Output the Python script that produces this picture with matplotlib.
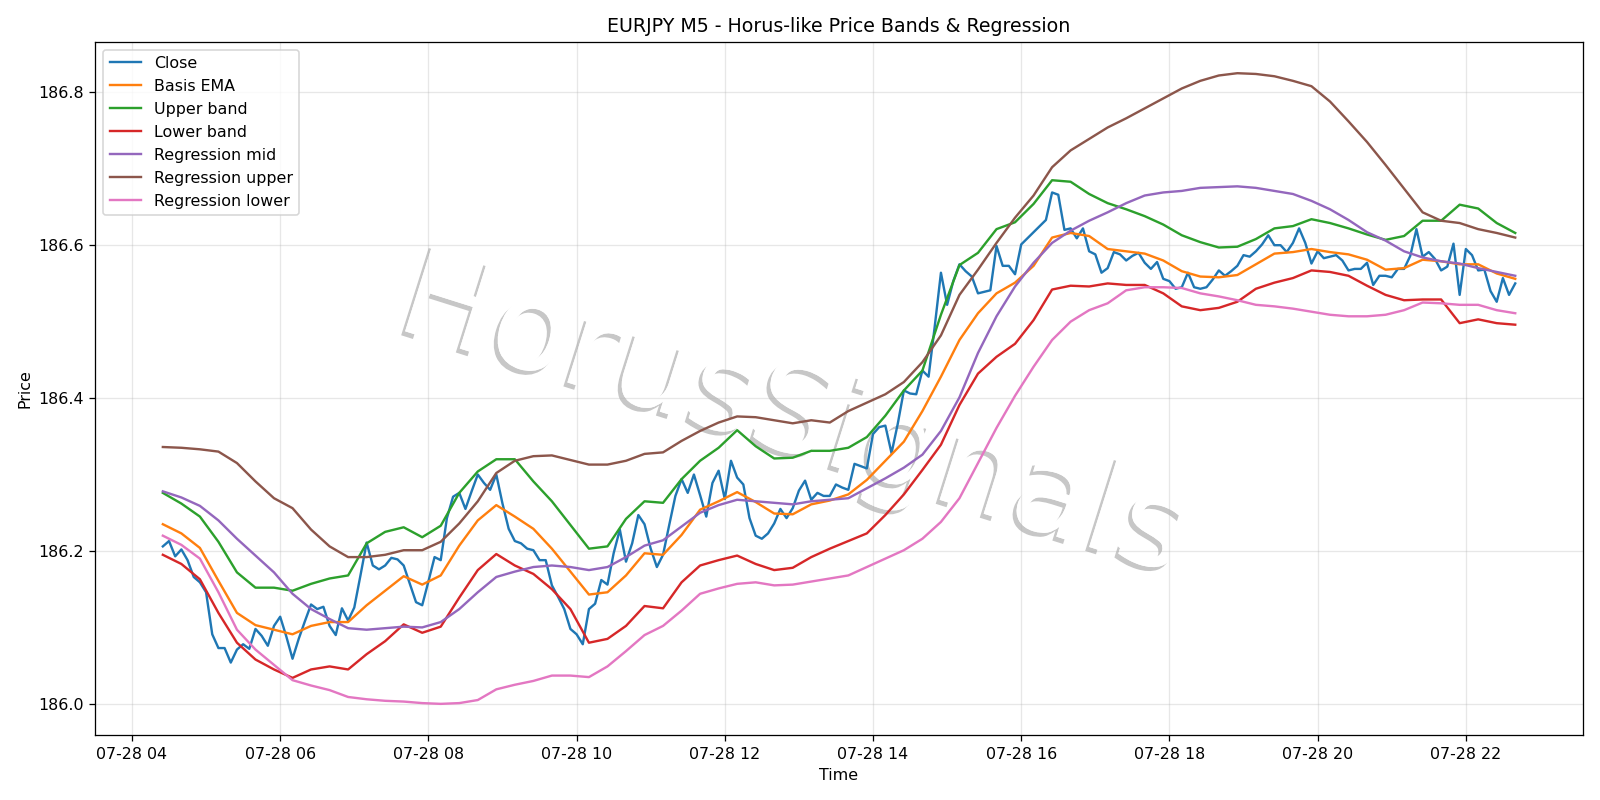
import numpy as np
import pandas as pd
import matplotlib
matplotlib.use("Agg")
import matplotlib.pyplot as plt
import matplotlib.dates as mdates
import matplotlib.patheffects as pe

# ── data (EURJPY M5, 2025-07-28) ────────────────────────────────────────────
START = "2025-07-28 04:25"

# close, one value per 5-minute bar
close = [
    186.206, 186.213, 186.193, 186.202, 186.188, 186.166, 186.159, 186.146, 186.091, 186.073,
    186.073, 186.054, 186.071, 186.078, 186.072, 186.098, 186.089, 186.076, 186.102, 186.114,
    186.088, 186.059, 186.085, 186.108, 186.130, 186.124, 186.127, 186.102, 186.090, 186.125,
    186.109, 186.126, 186.168, 186.211, 186.181, 186.176, 186.181, 186.191, 186.189, 186.181,
    186.157, 186.133, 186.129, 186.160, 186.192, 186.188, 186.243, 186.271, 186.276, 186.255,
    186.278, 186.300, 186.289, 186.280, 186.300, 186.262, 186.229, 186.213, 186.210, 186.203,
    186.201, 186.188, 186.188, 186.155, 186.140, 186.124, 186.098, 186.091, 186.078, 186.124,
    186.131, 186.162, 186.156, 186.197, 186.228, 186.186, 186.210, 186.247, 186.235, 186.203,
    186.179, 186.195, 186.234, 186.272, 186.294, 186.276, 186.300, 186.273, 186.245, 186.289,
    186.305, 186.268, 186.318, 186.296, 186.287, 186.243, 186.220, 186.216, 186.223, 186.236,
    186.255, 186.243, 186.256, 186.279, 186.292, 186.267, 186.276, 186.272, 186.272, 186.287,
    186.283, 186.280, 186.314, 186.311, 186.308, 186.353, 186.362, 186.364, 186.328, 186.366,
    186.410, 186.406, 186.405, 186.436, 186.428, 186.494, 186.564, 186.522, 186.553, 186.575,
    186.566, 186.559, 186.537, 186.539, 186.541, 186.599, 186.573, 186.573, 186.562, 186.601,
    186.609, 186.617, 186.625, 186.633, 186.669, 186.666, 186.620, 186.622, 186.609, 186.622,
    186.592, 186.588, 186.564, 186.570, 186.591, 186.588, 186.580, 186.586, 186.590, 186.577,
    186.569, 186.578, 186.556, 186.553, 186.543, 186.545, 186.564, 186.545, 186.543, 186.545,
    186.555, 186.567, 186.560, 186.566, 186.573, 186.587, 186.585, 186.592, 186.601, 186.613,
    186.600, 186.600, 186.591, 186.603, 186.622, 186.603, 186.576, 186.592, 186.583, 186.585,
    186.587, 186.580, 186.567, 186.569, 186.569, 186.577, 186.548, 186.560, 186.560, 186.558,
    186.569, 186.569, 186.586, 186.621, 186.585, 186.591, 186.582, 186.567, 186.572, 186.602,
    186.535, 186.595, 186.587, 186.567, 186.568, 186.540, 186.526, 186.557, 186.535, 186.550,
]

# smoother series, read every third bar (15 minutes)
basis_ema = [
    186.235, 186.223, 186.204, 186.161, 186.119, 186.103, 186.097,
    186.091, 186.102, 186.107, 186.107, 186.129, 186.148, 186.167, 186.156,
    186.168, 186.207, 186.240, 186.260, 186.245, 186.229, 186.203,
    186.173, 186.143, 186.146, 186.168, 186.197, 186.195, 186.221,
    186.254, 186.265, 186.277, 186.264, 186.249, 186.248, 186.261, 186.266,
    186.274, 186.293, 186.318, 186.343, 186.383, 186.428, 186.476,
    186.511, 186.537, 186.551, 186.573, 186.610, 186.616, 186.612,
    186.595, 186.592, 186.589, 186.580, 186.566, 186.559, 186.558,
    186.561, 186.575, 186.589, 186.591, 186.595, 186.591, 186.588, 186.581,
    186.568, 186.570, 186.581, 186.579, 186.575, 186.575, 186.563, 186.556,
]
upper_band = [
    186.276, 186.262, 186.245, 186.212, 186.172, 186.152, 186.152,
    186.148, 186.157, 186.164, 186.168, 186.210, 186.225, 186.231, 186.218,
    186.233, 186.276, 186.304, 186.320, 186.320, 186.291, 186.265,
    186.234, 186.203, 186.206, 186.242, 186.265, 186.263, 186.294,
    186.318, 186.335, 186.358, 186.337, 186.321, 186.322, 186.331, 186.331,
    186.335, 186.349, 186.377, 186.410, 186.436, 186.509, 186.574,
    186.590, 186.621, 186.630, 186.654, 186.685, 186.683, 186.667,
    186.655, 186.647, 186.638, 186.627, 186.613, 186.604, 186.597,
    186.598, 186.608, 186.622, 186.625, 186.634, 186.629, 186.622, 186.614,
    186.607, 186.612, 186.632, 186.632, 186.653, 186.648, 186.629, 186.616,
]
lower_band = [
    186.195, 186.183, 186.163, 186.119, 186.080, 186.058, 186.045,
    186.034, 186.045, 186.049, 186.045, 186.065, 186.082, 186.104, 186.093,
    186.101, 186.139, 186.175, 186.196, 186.181, 186.170, 186.150,
    186.124, 186.080, 186.085, 186.102, 186.128, 186.125, 186.159,
    186.181, 186.188, 186.194, 186.183, 186.175, 186.178, 186.192, 186.203,
    186.213, 186.223, 186.247, 186.274, 186.306, 186.339, 186.391,
    186.432, 186.454, 186.471, 186.502, 186.542, 186.547, 186.546,
    186.550, 186.548, 186.548, 186.537, 186.520, 186.515, 186.518,
    186.526, 186.543, 186.551, 186.557, 186.567, 186.565, 186.560, 186.547,
    186.535, 186.528, 186.529, 186.529, 186.498, 186.503, 186.498, 186.496,
]
reg_mid = [
    186.278, 186.270, 186.259, 186.240, 186.216, 186.194, 186.172,
    186.144, 186.124, 186.111, 186.099, 186.097, 186.099, 186.101, 186.100,
    186.107, 186.124, 186.146, 186.166, 186.173, 186.179, 186.181,
    186.179, 186.175, 186.179, 186.192, 186.207, 186.214, 186.232,
    186.250, 186.260, 186.267, 186.265, 186.263, 186.261, 186.265, 186.267,
    186.269, 186.282, 186.295, 186.309, 186.326, 186.357, 186.401,
    186.459, 186.507, 186.546, 186.577, 186.603, 186.619, 186.632,
    186.643, 186.655, 186.665, 186.669, 186.671, 186.675, 186.676,
    186.677, 186.675, 186.671, 186.667, 186.658, 186.647, 186.633, 186.617,
    186.606, 186.592, 186.584, 186.579, 186.576, 186.570, 186.565, 186.560,
]
reg_upper = [
    186.336, 186.335, 186.333, 186.330, 186.315, 186.291, 186.269,
    186.256, 186.228, 186.206, 186.192, 186.192, 186.195, 186.201, 186.201,
    186.212, 186.236, 186.265, 186.302, 186.318, 186.324, 186.325,
    186.319, 186.313, 186.313, 186.318, 186.327, 186.329, 186.344,
    186.357, 186.368, 186.376, 186.375, 186.371, 186.367, 186.371, 186.368,
    186.383, 186.394, 186.405, 186.421, 186.447, 186.482, 186.535,
    186.568, 186.603, 186.636, 186.665, 186.702, 186.724, 186.739,
    186.754, 186.766, 186.779, 186.792, 186.805, 186.815, 186.822,
    186.825, 186.824, 186.821, 186.815, 186.808, 186.788, 186.762, 186.735,
    186.705, 186.674, 186.643, 186.632, 186.629, 186.621, 186.616, 186.610,
]
reg_lower = [
    186.220, 186.208, 186.190, 186.146, 186.097, 186.071, 186.051,
    186.031, 186.024, 186.018, 186.009, 186.006, 186.004, 186.003, 186.001,
    186.000, 186.001, 186.005, 186.019, 186.025, 186.030, 186.037,
    186.037, 186.035, 186.049, 186.069, 186.090, 186.102, 186.122,
    186.144, 186.151, 186.157, 186.159, 186.155, 186.156, 186.160, 186.164,
    186.168, 186.179, 186.190, 186.201, 186.216, 186.238, 186.269,
    186.315, 186.361, 186.403, 186.441, 186.476, 186.500, 186.515,
    186.524, 186.541, 186.545, 186.545, 186.544, 186.537, 186.533,
    186.528, 186.522, 186.520, 186.517, 186.513, 186.509, 186.507, 186.507,
    186.509, 186.515, 186.525, 186.524, 186.522, 186.522, 186.515, 186.511,
]


def main():
    t5 = pd.date_range(START, periods=len(close), freq="5min")
    t15 = t5[::3]

    fig, ax = plt.subplots(figsize=(14, 7), dpi=1600 / 14)

    ax.plot(t5, close, label="Close", lw=1.5)
    ax.plot(t15, basis_ema, label="Basis EMA", lw=1.5)
    ax.plot(t15, upper_band, label="Upper band", lw=1.5)
    ax.plot(t15, lower_band, label="Lower band", lw=1.5)
    ax.plot(t15, reg_mid, label="Regression mid", lw=1.5)
    ax.plot(t15, reg_upper, label="Regression upper", lw=1.5)
    ax.plot(t15, reg_lower, label="Regression lower", lw=1.5)

    # watermark
    ax.text(0.496, 0.478, "HorusSignals", transform=fig.transFigure,
            fontsize=79, color="white", rotation=-17.5,
            ha="center", va="center", zorder=0,
            path_effects=[pe.withSimplePatchShadow(offset=(-2.5, -2.5),
                                                   shadow_rgbFace="#999999",
                                                   alpha=0.55),
                          pe.Normal()])

    ax.xaxis.set_major_locator(mdates.HourLocator(byhour=range(0, 24, 2)))
    ax.xaxis.set_major_formatter(mdates.DateFormatter("%m-%d %H"))
    ax.set_title("EURJPY M5 - Horus-like Price Bands & Regression")
    ax.set_xlabel("Time")
    ax.set_ylabel("Price")
    ax.grid(True, alpha=0.3)
    ax.legend(loc="upper left")

    plt.tight_layout()
    plt.savefig("out.png", dpi=1600 / 14)
    plt.close()


if __name__ == "__main__":
    main()
